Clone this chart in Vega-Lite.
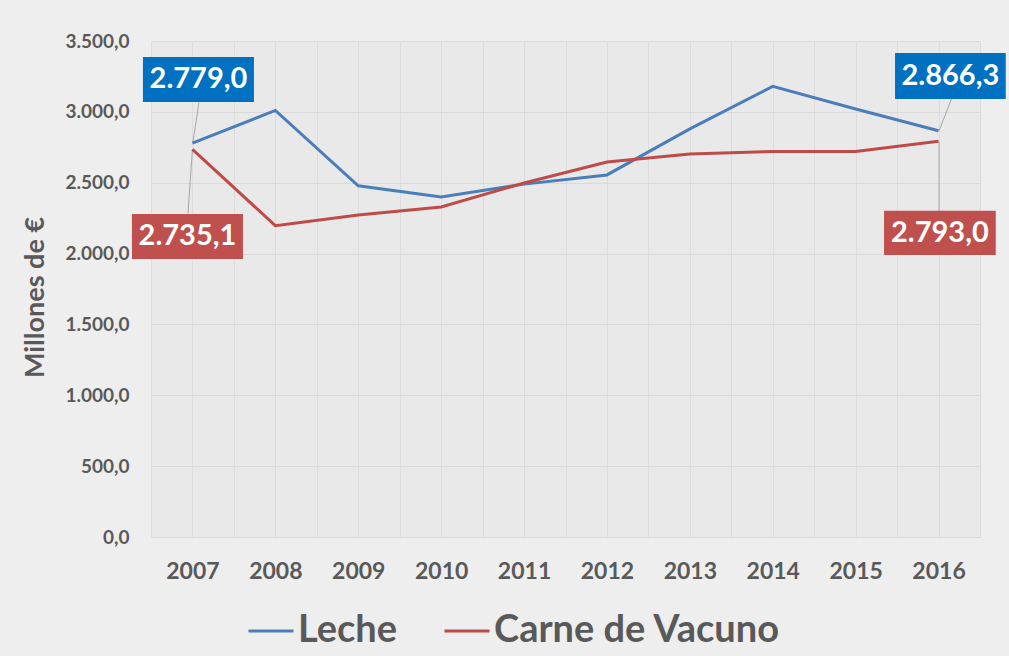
{
  "$schema": "https://vega.github.io/schema/vega-lite/v6.json",
  "width": 829,
  "height": 496,
  "autosize": {"type": "none"},
  "padding": {"left": 151, "top": 41, "right": 29, "bottom": 119},
  "background": "#eeeeee",
  "config": {
    "locale": {"number": {"decimal": ",", "thousands": ".", "grouping": [3], "currency": ["", " €"]}},
    "view": {"fill": "#e9e9e9", "stroke": null},
    "font": "Lato"
  },
  "data": {
    "values": [
      {"year": 2007, "serie": "Leche", "value": 2779.0},
      {"year": 2008, "serie": "Leche", "value": 3010},
      {"year": 2009, "serie": "Leche", "value": 2478},
      {"year": 2010, "serie": "Leche", "value": 2400},
      {"year": 2011, "serie": "Leche", "value": 2490},
      {"year": 2012, "serie": "Leche", "value": 2555},
      {"year": 2013, "serie": "Leche", "value": 2880},
      {"year": 2014, "serie": "Leche", "value": 3180},
      {"year": 2015, "serie": "Leche", "value": 3020},
      {"year": 2016, "serie": "Leche", "value": 2866.3},
      {"year": 2007, "serie": "Carne de Vacuno", "value": 2735.1},
      {"year": 2008, "serie": "Carne de Vacuno", "value": 2197},
      {"year": 2009, "serie": "Carne de Vacuno", "value": 2272},
      {"year": 2010, "serie": "Carne de Vacuno", "value": 2329},
      {"year": 2011, "serie": "Carne de Vacuno", "value": 2498},
      {"year": 2012, "serie": "Carne de Vacuno", "value": 2646},
      {"year": 2013, "serie": "Carne de Vacuno", "value": 2703},
      {"year": 2014, "serie": "Carne de Vacuno", "value": 2720},
      {"year": 2015, "serie": "Carne de Vacuno", "value": 2720},
      {"year": 2016, "serie": "Carne de Vacuno", "value": 2793.0}
    ]
  },
  "encoding": {
    "x": {
      "field": "year", "type": "quantitative",
      "scale": {"domain": [2006.5, 2016.5], "nice": false, "zero": false},
      "axis": {
        "title": null,
        "values": [2006.5, 2007, 2007.5, 2008, 2008.5, 2009, 2009.5, 2010, 2010.5, 2011, 2011.5, 2012, 2012.5, 2013, 2013.5, 2014, 2014.5, 2015, 2015.5, 2016, 2016.5],
        "labelExpr": "datum.value % 1 == 0 ? '' + datum.value : ''",
        "grid": true, "gridColor": "#dddddd", "gridWidth": 1,
        "ticks": false, "domain": false,
        "labelFont": "Lato", "labelFontWeight": "bold", "labelFontSize": 23, "labelColor": "#595959",
        "labelPadding": 23, "labelFlush": false, "labelOverlap": false
      }
    },
    "y": {
      "field": "value", "type": "quantitative",
      "scale": {"domain": [0, 3500], "nice": false},
      "axis": {
        "title": "Millones de €",
        "values": [0, 500, 1000, 1500, 2000, 2500, 3000, 3500],
        "format": ",.1f",
        "grid": true, "gridColor": "#dadada", "gridWidth": 1,
        "ticks": false, "domain": false,
        "labelFont": "Lato", "labelFontWeight": "bold", "labelFontSize": 19, "labelColor": "#595959",
        "labelPadding": 22,
        "titleFont": "Lato", "titleFontWeight": "bold", "titleFontSize": 27, "titleColor": "#595959",
        "titleX": -116, "titleY": 256, "titleBaseline": "middle", "titleAlign": "center", "titleAngle": -90
      }
    }
  },
  "layer": [
    {
      "transform": [{"filter": "datum.year == 2007 && datum.serie == 'Leche'"}],
      "mark": {"type": "rule", "color": "#a6a6a6", "strokeWidth": 1, "xOffset": 0.5, "yOffset": -1, "x2Offset": 6.5, "y2Offset": -41},
      "encoding": {"x2": {"field": "year"}, "y2": {"field": "value"}}
    },
    {
      "transform": [{"filter": "datum.year == 2007 && datum.serie == 'Carne de Vacuno'"}],
      "mark": {"type": "rule", "color": "#a6a6a6", "strokeWidth": 1, "xOffset": 0, "yOffset": 0, "x2Offset": -4.5, "y2Offset": 64},
      "encoding": {"x2": {"field": "year"}, "y2": {"field": "value"}}
    },
    {
      "transform": [{"filter": "datum.year == 2016 && datum.serie == 'Leche'"}],
      "mark": {"type": "rule", "color": "#a6a6a6", "strokeWidth": 1, "xOffset": 0.5, "yOffset": 0, "x2Offset": 13, "y2Offset": -32},
      "encoding": {"x2": {"field": "year"}, "y2": {"field": "value"}}
    },
    {
      "transform": [{"filter": "datum.year == 2016 && datum.serie == 'Carne de Vacuno'"}],
      "mark": {"type": "rule", "color": "#a6a6a6", "strokeWidth": 1, "xOffset": 0.5, "yOffset": 0, "x2Offset": 0.5, "y2Offset": 70},
      "encoding": {"x2": {"field": "year"}, "y2": {"field": "value"}}
    },
    {
      "mark": {"type": "line", "strokeWidth": 3},
      "encoding": {
        "color": {
          "field": "serie", "type": "nominal",
          "scale": {"domain": ["Leche", "Carne de Vacuno"], "range": ["#4A7EBB", "#BE4B48"]},
          "legend": {
            "title": null, "orient": "none", "direction": "horizontal",
            "legendX": 96, "legendY": 566,
            "symbolType": "stroke", "symbolSize": 2025, "symbolStrokeWidth": 3,
            "labelFont": "Lato", "labelFontWeight": "bold", "labelFontSize": 38, "labelColor": "#595959",
            "labelOffset": 3, "columnPadding": 40, "padding": 0, "labelLimit": 400
          }
        }
      }
    },
    {
      "transform": [{"filter": "datum.year == 2007 && datum.serie == 'Leche'"}],
      "mark": {"type": "rect", "color": "#0070C0", "xOffset": -49.5, "x2Offset": 61.5, "yOffset": -86.2, "y2Offset": -41.2},
      "encoding": {"x2": {"field": "year"}, "y2": {"field": "value"}}
    },
    {
      "transform": [{"filter": "datum.year == 2007 && datum.serie == 'Carne de Vacuno'"}],
      "mark": {"type": "rect", "color": "#C0504D", "xOffset": -60.5, "x2Offset": 50.5, "yOffset": 64.6, "y2Offset": 109.6},
      "encoding": {"x2": {"field": "year"}, "y2": {"field": "value"}}
    },
    {
      "transform": [{"filter": "datum.year == 2016 && datum.serie == 'Leche'"}],
      "mark": {"type": "rect", "color": "#0070C0", "xOffset": -43.5, "x2Offset": 67.2, "yOffset": -77.8, "y2Offset": -31.8},
      "encoding": {"x2": {"field": "year"}, "y2": {"field": "value"}}
    },
    {
      "transform": [{"filter": "datum.year == 2016 && datum.serie == 'Carne de Vacuno'"}],
      "mark": {"type": "rect", "color": "#C0504D", "xOffset": -54.5, "x2Offset": 57.2, "yOffset": 69.5, "y2Offset": 113.8},
      "encoding": {"x2": {"field": "year"}, "y2": {"field": "value"}}
    },
    {
      "transform": [{"filter": "datum.year == 2007 && datum.serie == 'Leche'"}],
      "mark": {"type": "text", "color": "white", "font": "Lato", "fontWeight": "bold", "fontSize": 29, "align": "center", "baseline": "middle", "dx": 6, "dy": -63.7},
      "encoding": {"text": {"field": "value", "type": "quantitative", "format": ",.1f"}}
    },
    {
      "transform": [{"filter": "datum.year == 2007 && datum.serie == 'Carne de Vacuno'"}],
      "mark": {"type": "text", "color": "white", "font": "Lato", "fontWeight": "bold", "fontSize": 29, "align": "center", "baseline": "middle", "dx": -5, "dy": 87.1},
      "encoding": {"text": {"field": "value", "type": "quantitative", "format": ",.1f"}}
    },
    {
      "transform": [{"filter": "datum.year == 2016 && datum.serie == 'Leche'"}],
      "mark": {"type": "text", "color": "white", "font": "Lato", "fontWeight": "bold", "fontSize": 29, "align": "center", "baseline": "middle", "dx": 11.8, "dy": -54.8},
      "encoding": {"text": {"field": "value", "type": "quantitative", "format": ",.1f"}}
    },
    {
      "transform": [{"filter": "datum.year == 2016 && datum.serie == 'Carne de Vacuno'"}],
      "mark": {"type": "text", "color": "white", "font": "Lato", "fontWeight": "bold", "fontSize": 29, "align": "center", "baseline": "middle", "dx": 1.3, "dy": 91.6},
      "encoding": {"text": {"field": "value", "type": "quantitative", "format": ",.1f"}}
    }
  ]
}
